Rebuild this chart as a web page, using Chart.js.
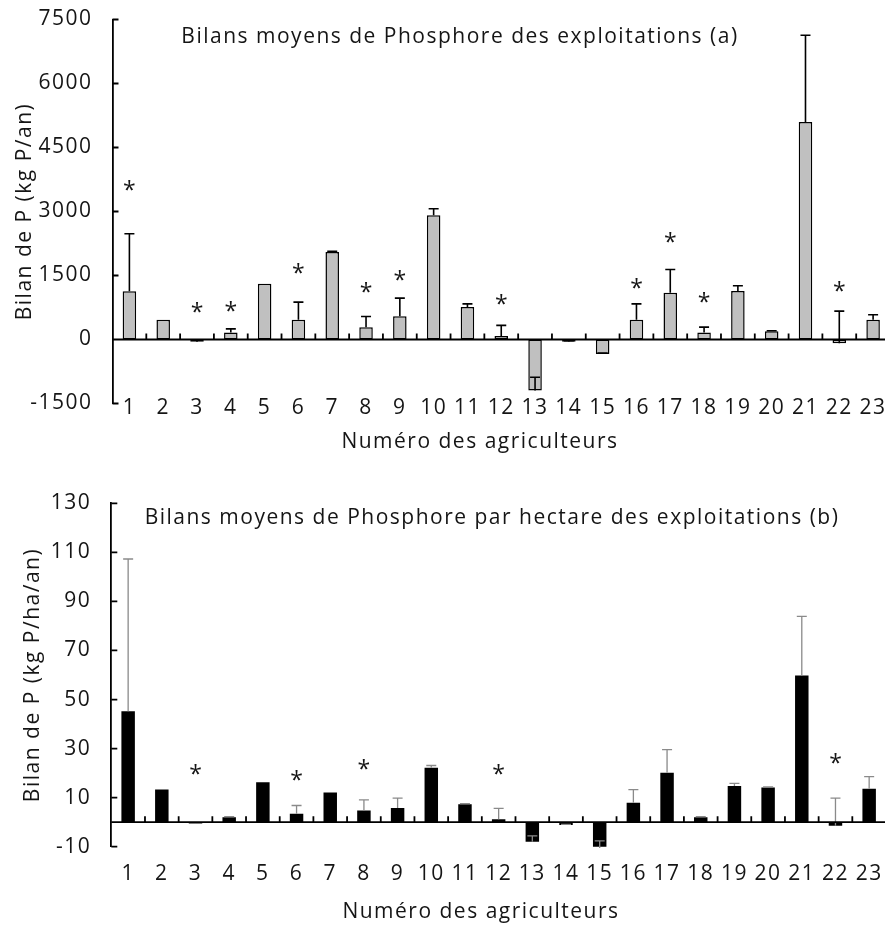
<!DOCTYPE html>
<html>
<head>
<meta charset="utf-8">
<script src="https://cdn.jsdelivr.net/npm/chart.js@4.4.0/dist/chart.umd.min.js"></script>
<style>
  html, body { margin: 0; padding: 0; background: #fff; overflow: hidden; }
  .panel { position: absolute; left: 0; }
</style>
</head>
<body>
<div class="panel" style="top:0"><canvas id="graphA" width="900" height="462"></canvas></div>
<div class="panel" style="top:462px"><canvas id="graphB" width="900" height="463"></canvas></div>
<script>
const agriculteurs = ['1','2','3','4','5','6','7','8','9','10','11','12','13','14','15','16','17','18','19','20','21','22','23'];

// (a) bilan par exploitation, kg P/an
const bilanExploitation = [1130, 460, -50, 165, 1305, 460, 2050, 290, 545, 2910, 760, 80, -1195, -50, -340, 460, 1095, 165, 1135, 195, 5100, -90, 460];
const erreurExploitation = [1350, 0, 40, 85, 0, 415, 20, 250, 425, 155, 75, 250, 310, 20, 20, 375, 545, 125, 125, 10, 2030, 755, 120];
const etoileExploitation = [3550, null, 680, 720, null, 1600, null, 1150, 1450, null, null, 890, null, null, null, 1265, 2340, 930, null, null, null, 1190, null];
const ticksExploitation = { min: -1500, max: 7500, pas: 1500 };

// (b) bilan par hectare, kg P/ha/an
const bilanHectare = [45.2, 13.3, -0.5, 2.0, 16.3, 3.4, 12.1, 4.8, 5.8, 22.2, 7.3, 1.2, -8.0, -1.2, -10.5, 7.9, 20.1, 2.0, 14.7, 14.1, 59.8, -1.5, 13.6];
const erreurHectare = [62.1, 0, 0.3, 0.3, 0, 3.4, 0, 4.3, 4.0, 0.9, 0.3, 4.4, 2.4, 0.3, 2.9, 5.4, 9.5, 0.3, 1.1, 0.3, 24.1, 11.3, 5.0];
const etoileHectare = [null, null, 20.4, null, null, 18.1, null, 22.4, null, null, null, 20.4, null, null, null, null, null, null, null, null, null, 25.1, null];
const ticksHectare = { min: -10, max: 130, pas: 20 };

const POLICE = "'Open Sans', sans-serif";
const TAILLE = 21;
const TEXTE = '#151515';

// axe à zéro, petites graduations, barres d'erreur, étoiles et titres
const decorations = {
  id: 'decorations',
  beforeDraw(chart) {
    chart.ctx.letterSpacing = '1.5px';
  },
  afterDatasetsDraw(chart, args, opts) {
    const { ctx, chartArea, scales: { x, y } } = chart;
    const zero = y.getPixelForValue(0);
    ctx.save();
    ctx.lineCap = 'butt';

    // barres d'erreur (vers le haut)
    ctx.strokeStyle = opts.couleurErreur;
    ctx.lineWidth = opts.epaisseurErreur;
    opts.valeurs.forEach((v, i) => {
      const e = opts.erreurs[i];
      if (!e) return;
      const px = x.getPixelForValue(i);
      const y0 = y.getPixelForValue(v);
      const y1 = y.getPixelForValue(v + e);
      ctx.beginPath();
      ctx.moveTo(px, y0);
      ctx.lineTo(px, y1);
      ctx.moveTo(px - 5, y1);
      ctx.lineTo(px + 5, y1);
      ctx.stroke();
    });

    // ligne du zéro + graduations entre catégories
    ctx.strokeStyle = '#000';
    ctx.lineWidth = 1.8;
    ctx.beginPath();
    ctx.moveTo(chartArea.left, zero);
    ctx.lineTo(chartArea.right, zero);
    const n = opts.valeurs.length;
    const w = (chartArea.right - chartArea.left) / n;
    for (let i = 1; i <= n; i++) {
      const px = chartArea.left + i * w;
      ctx.moveTo(px, zero);
      ctx.lineTo(px, zero - 6);
    }
    // graduations de l'axe vertical, vers l'intérieur
    y.ticks.forEach(t => {
      const py = y.getPixelForValue(t.value);
      ctx.moveTo(chartArea.left, py);
      ctx.lineTo(chartArea.left + 6, py);
    });
    ctx.stroke();

    // étoiles
    ctx.fillStyle = TEXTE;
    ctx.textAlign = 'center';
    ctx.textBaseline = 'alphabetic';
    ctx.letterSpacing = '0px';
    ctx.font = '23px ' + POLICE;
    opts.etoiles.forEach((s, i) => {
      if (s === null) return;
      ctx.fillText('*', x.getPixelForValue(i), y.getPixelForValue(s) + 10);
    });

    // titres
    ctx.letterSpacing = '1.5px';
    ctx.textBaseline = 'middle';
    ctx.font = TAILLE + 'px ' + POLICE;
    ctx.fillText(opts.titre, opts.titreX, opts.titreY);
    ctx.fillText('Numéro des agriculteurs', opts.axeX, opts.axeY);
    ctx.restore();
  }
};

function creerGraphe(id, cfg) {
  const ctx = document.getElementById(id).getContext('2d');
  return new Chart(ctx, {
    type: 'bar',
    data: {
      labels: agriculteurs,
      datasets: [{
        data: cfg.valeurs,
        backgroundColor: cfg.remplissage,
        borderColor: '#000',
        borderWidth: cfg.bordure,
        borderSkipped: false,
        barPercentage: 0.4,
        categoryPercentage: 1
      }]
    },
    options: {
      responsive: false,
      animation: false,
      devicePixelRatio: 1,
      layout: { padding: { top: cfg.haut, right: cfg.droite, left: 0, bottom: 0 } },
      plugins: {
        legend: { display: false },
        tooltip: { enabled: false },
        decorations: {
          valeurs: cfg.valeurs,
          erreurs: cfg.erreurs,
          etoiles: cfg.etoiles,
          couleurErreur: cfg.couleurErreur,
          epaisseurErreur: cfg.epaisseurErreur,
          titre: cfg.titre,
          titreX: cfg.titreX,
          titreY: cfg.titreY,
          axeX: cfg.axeX,
          axeY: cfg.axeY
        }
      },
      scales: {
        x: {
          grid: { display: false, drawTicks: false },
          border: { display: false },
          ticks: {
            color: TEXTE,
            font: { family: POLICE, size: TAILLE, lineHeight: 1.2 },
            padding: cfg.paddingX,
            maxRotation: 0,
            autoSkip: false
          },
          afterFit: s => {
            s.height = cfg.hauteurX;
            s.paddingLeft = 0;
            s.paddingRight = 0;
            // les étiquettes remontent au niveau du bas de l'axe : pas de découpe
            s._computeLabelArea = () => undefined;
          }
        },
        y: {
          min: cfg.ticks.min,
          max: cfg.ticks.max,
          grid: { display: false, drawTicks: false },
          border: { display: true, color: '#000', width: 1.8 },
          ticks: {
            stepSize: cfg.ticks.pas,
            color: TEXTE,
            font: { family: POLICE, size: TAILLE },
            padding: cfg.paddingY,
            callback: v => String(v)
          },
          title: {
            display: true,
            text: cfg.titreAxeY,
            color: TEXTE,
            font: { family: POLICE, size: TAILLE, lineHeight: 1.2 },
            padding: { top: cfg.paddingTitreY, bottom: 0 }
          },
          afterFit: s => { s.width = cfg.gauche; s.paddingTop = 0; s.paddingBottom = 0; }
        }
      }
    },
    plugins: [decorations]
  });
}

creerGraphe('graphA', {
  valeurs: bilanExploitation,
  erreurs: erreurExploitation,
  etoiles: etoileExploitation,
  ticks: ticksExploitation,
  remplissage: '#c0c0c0',
  bordure: 1.5,
  couleurErreur: '#000',
  epaisseurErreur: 1.6,
  titre: 'Bilans moyens de Phosphore des exploitations (a)',
  titreX: 460, titreY: 37,
  axeX: 480, axeY: 442,
  titreAxeY: 'Bilan de P (kg P/an)',
  paddingTitreY: 12,
  haut: 19.5, droite: 10, gauche: 112.5,
  hauteurX: 58.5,
  paddingX: -8,
  paddingY: 20
});

creerGraphe('graphB', {
  valeurs: bilanHectare,
  erreurs: erreurHectare,
  etoiles: etoileHectare,
  ticks: ticksHectare,
  remplissage: '#000',
  bordure: 0,
  couleurErreur: '#8a8a8a',
  epaisseurErreur: 1.3,
  titre: 'Bilans moyens de Phosphore par hectare des exploitations (b)',
  titreX: 492, titreY: 56,
  axeX: 481, axeY: 450,
  titreAxeY: 'Bilan de P (kg P/ha/an)',
  paddingTitreY: 20,
  haut: 41.3, droite: 14, gauche: 111.3,
  hauteurX: 78.3,
  paddingX: 15,
  paddingY: 20
});
</script>
</body>
</html>
